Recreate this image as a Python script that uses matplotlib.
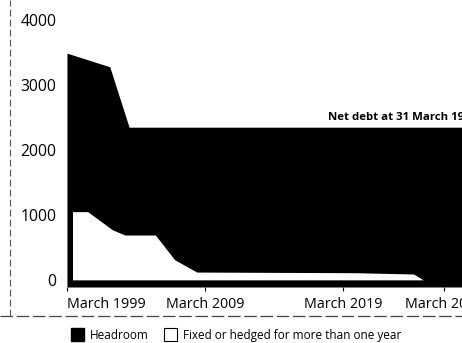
import matplotlib.pyplot as plt
from matplotlib.patches import Patch
from matplotlib.lines import Line2D

plt.rcParams['font.family'] = ['Open Sans', 'DejaVu Sans']

# total facilities (headroom area top), in £m
total_years = [1999.0, 2002.1, 2003.5, 2031.0]
total_vals = [3490, 3280, 2350, 2350]

# fixed or hedged for more than one year
fixed_years = [1999.4, 2000.5, 2002.3, 2003.2, 2005.4, 2006.8, 2008.4, 2019.9, 2024.1, 2024.8]
fixed_vals = [1050, 1050, 770, 690, 690, 310, 120, 110, 90, 0]

xticks = [1999, 2009, 2019, 2026.3]
xlabels = ["March 1999", "March 2009", "March 2019", "March 2029"]
yticks = [0, 1000, 2000, 3000, 4000]

fig = plt.figure(figsize=(4.62, 3.43), dpi=100)
# the chart is cut at the right edge of the page, so the axes run past it
ax = fig.add_axes([62/462, 1 - 287/343, 433/462, 277/343])

ax.fill_between(total_years, -110, total_vals, color='black', lw=0)
ax.fill_between(fixed_years, 0, fixed_vals, color='white', lw=0)

ax.set_yticks(yticks)
ax.set_yticklabels([str(v) for v in yticks], fontsize=11.3)
ax.tick_params(axis='y', length=0, pad=4)
ax.set_xticks(xticks)
ax.set_xticklabels(xlabels, fontsize=10.3)
ax.tick_params(axis='x', length=3, width=0.8, pad=4, direction='out')
ax.get_xticklabels()[0].set_ha('left')
for s in ax.spines.values():
    s.set_visible(False)

ax.set_xlim(1998.64, 2030.0)
ax.set_ylim(-110, 4154)

ax.text(2017.9, 2420, "Net debt at 31 March 1999", fontsize=8.2,
        fontweight='bold', ha='left', va='bottom', clip_on=False)

# scan artefacts: page rule lines
fig.add_artist(Line2D([0, 1], [1 - 316/343, 1 - 316/343], color='#444444',
                      lw=0.9, ls=(0, (10, 3))))
fig.add_artist(Line2D([10/462, 10/462], [1 - 316/343, 1], color='#555555',
                      lw=0.8, ls=(0, (6, 3))))

handles = [Patch(facecolor='black', edgecolor='black'),
           Patch(facecolor='white', edgecolor='black', lw=0.8)]
fig.legend(handles, ["Headroom", "Fixed or hedged for more than one year"],
           loc='center', bbox_to_anchor=(236/462, 1 - 335/343), ncol=2,
           frameon=False, fontsize=8.5, handlelength=1.1, handleheight=1.2,
           handletextpad=0.5, columnspacing=1.3, borderpad=0)

fig.savefig("out.png", dpi=100)
